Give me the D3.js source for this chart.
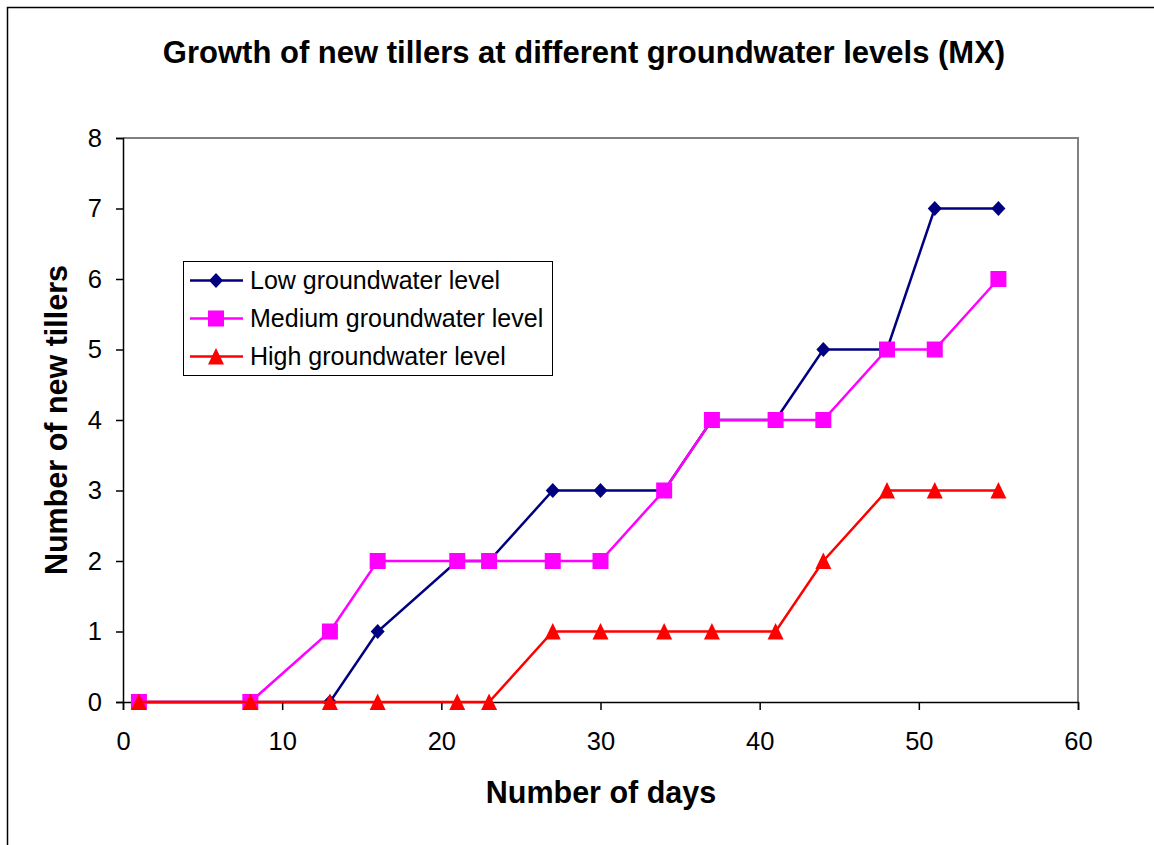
<!DOCTYPE html>
<html><head><meta charset="utf-8">
<script src="https://cdn.jsdelivr.net/npm/d3@7"></script>
<style>body{margin:0;background:#fff}svg{display:block;font-family:Arial,"Liberation Sans",sans-serif}</style>
</head><body>
<svg id="c" width="1154" height="845"></svg>
<script>
const days = [1, 8, 13, 16, 21, 23, 27, 30, 34, 37, 41, 44, 48, 51, 55];
const lowLevel = [0, 0, 0, 1, 2, 2, 3, 3, 3, 4, 4, 5, 5, 7, 7];
const mediumLevel = [0, 0, 1, 2, 2, 2, 2, 2, 3, 4, 4, 4, 5, 5, 6];
const highLevel = [0, 0, 0, 0, 0, 0, 1, 1, 1, 1, 1, 2, 3, 3, 3];
const seriesNames = ["Low groundwater level", "Medium groundwater level", "High groundwater level"];
const xTicks = [0, 10, 20, 30, 40, 50, 60];
const yTicks = [0, 1, 2, 3, 4, 5, 6, 7, 8];

const svg = d3.select("#c");
const L = 123, R = 1078, T = 138, B = 702;
const x = d3.scaleLinear().domain([0, 60]).range([L, R]);
const y = d3.scaleLinear().domain([0, 8]).range([B, T]);

// outer frame
svg.append("path").attr("d", "M7.5,845 L7.5,7.5 L1154,7.5").attr("fill", "none").attr("stroke", "#000").attr("stroke-width", 1.5);

// plot border
svg.append("path").attr("d", `M${L},${T} L${R},${T} L${R},${B}`).attr("fill", "none").attr("stroke", "#808080").attr("stroke-width", 2);

const xAxis = svg.append("g").attr("transform", `translate(0,${B})`)
  .call(d3.axisBottom(x).tickValues(xTicks).tickSize(8).tickPadding(22).tickFormat(d3.format("d")));
const yAxis = svg.append("g").attr("transform", `translate(${L},0)`)
  .call(d3.axisLeft(y).tickValues(yTicks).tickSize(7).tickPadding(14).tickFormat(d3.format("d")));
[xAxis, yAxis].forEach(g => {
  g.attr("font-size", null).attr("font-family", null);
  g.selectAll("path").attr("stroke", "#000").attr("stroke-width", 1.5);
  g.selectAll("line").attr("stroke", "#000").attr("stroke-width", 1.5);
  g.selectAll("text").style("font-size", "25.5px").attr("fill", "#000");
});

// titles
svg.append("text").attr("x", 584).attr("y", 63).attr("text-anchor", "middle")
  .style("font-size", "31px").attr("font-weight", "bold").text("Growth of new tillers at different groundwater levels (MX)");
svg.append("text").attr("x", 601).attr("y", 803).attr("text-anchor", "middle")
  .style("font-size", "30.5px").attr("font-weight", "bold").text("Number of days");
svg.append("text").attr("transform", `translate(67,${(T + B) / 2}) rotate(-90)`).attr("text-anchor", "middle")
  .style("font-size", "30.5px").attr("font-weight", "bold").text("Number of new tillers");

const series = [
  { name: seriesNames[0], values: lowLevel, color: "#000080", shape: "diamond" },
  { name: seriesNames[1], values: mediumLevel, color: "#FF00FF", shape: "square" },
  { name: seriesNames[2], values: highLevel, color: "#FF0000", shape: "triangle" }
];
const shapes = {
  diamond: "M0,-7.5L7,0L0,7.5L-7,0Z",
  square: "M-8,-8H8V8H-8Z",
  triangle: "M0,-8.5L8,8H-8Z"
};

const line = d3.line().x(d => x(d[0])).y(d => y(d[1]));
series.forEach(s => {
  const pts = days.map((d, i) => [d, s.values[i]]);
  svg.append("path").datum(pts).attr("d", line).attr("fill", "none").attr("stroke", s.color).attr("stroke-width", 2.5);
  svg.append("g").selectAll("path").data(pts).join("path")
    .attr("d", shapes[s.shape])
    .attr("transform", d => `translate(${x(d[0])},${y(d[1])})`)
    .attr("fill", s.color);
});

// legend
const lg = svg.append("g");
lg.append("rect").attr("x", 183.5).attr("y", 261.5).attr("width", 369).attr("height", 114)
  .attr("fill", "#fff").attr("stroke", "#000").attr("stroke-width", 1);
series.forEach((s, i) => {
  const cy = 280.5 + i * 38;
  lg.append("line").attr("x1", 190).attr("x2", 243).attr("y1", cy).attr("y2", cy).attr("stroke", s.color).attr("stroke-width", 2.5);
  lg.append("path").attr("d", shapes[s.shape]).attr("transform", `translate(216,${cy})`).attr("fill", s.color);
  lg.append("text").attr("x", 250).attr("y", cy + 8.5).style("font-size", "25px").text(s.name);
});
</script>
</body></html>
